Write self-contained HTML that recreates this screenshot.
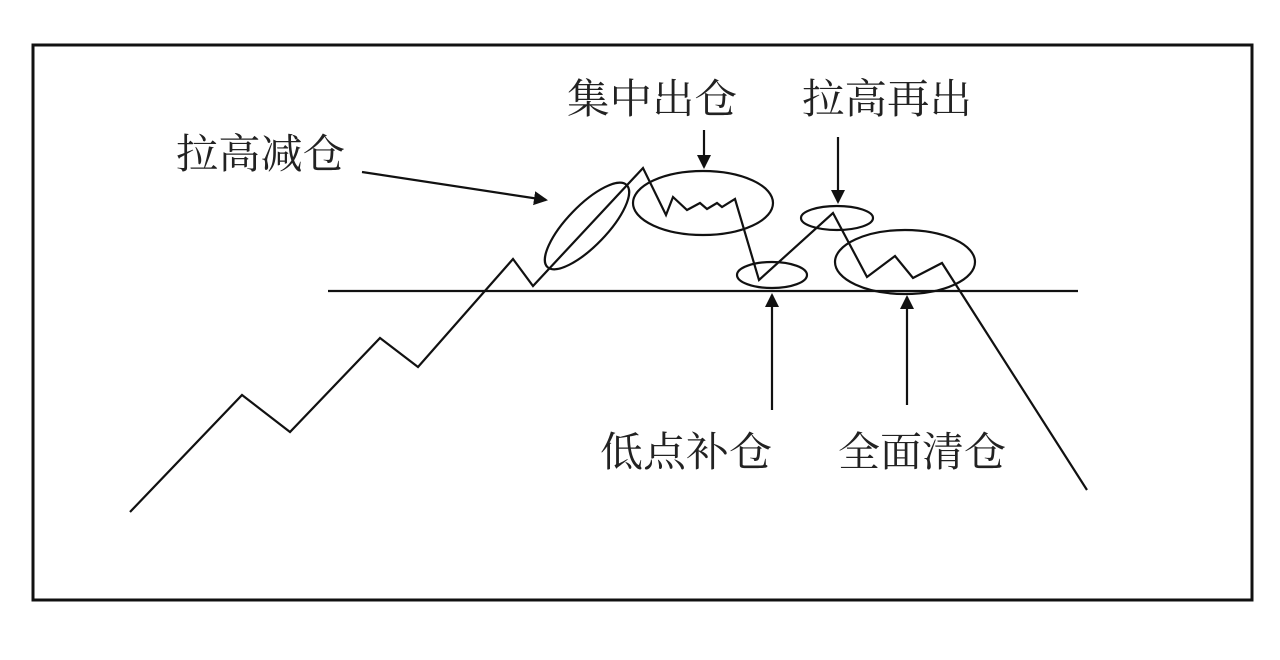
<!DOCTYPE html>
<html><head><meta charset="utf-8"><style>
html,body{margin:0;padding:0;background:#fff;}
svg{display:block;}
text{font-family:"Liberation Serif","Noto Serif CJK SC",serif;font-size:41px;fill:#222;}
</style></head><body>
<svg width="1280" height="660" viewBox="0 0 1280 660" xmlns="http://www.w3.org/2000/svg">
<defs><marker id="a" markerWidth="10" markerHeight="10" refX="9" refY="5" orient="auto" markerUnits="userSpaceOnUse" viewBox="0 0 10 10"><path d="M0,0 L10,5 L0,10 Z" fill="#111"/></marker>
<marker id="b" markerWidth="14" markerHeight="18" refX="12" refY="7" orient="auto" markerUnits="userSpaceOnUse" viewBox="0 0 14 14"><path d="M0,0 L14,7 L0,14 Z" fill="#111"/></marker></defs>
<rect x="33" y="45" width="1219" height="555" fill="none" stroke="#111" stroke-width="3"/>
<g fill="none" stroke="#111" stroke-width="2.2">
<line x1="328" y1="291" x2="1078" y2="291"/>
<polyline points="130,512 242,395 290,432 380,338 418,367 513,259 533,286 643,168 666,215 673,197 687,210 700,203 707,209 717,203 722,207 735,199 759,280 833,213 867,277 895,256 913,278 942,263 1087,490"/>
<ellipse cx="587" cy="226" rx="57" ry="20" transform="rotate(-46 587 226)"/>
<ellipse cx="703" cy="203" rx="70" ry="32"/>
<ellipse cx="772" cy="275" rx="35" ry="13"/>
<ellipse cx="837" cy="218" rx="36" ry="12"/>
<ellipse cx="905" cy="262" rx="70" ry="32"/>
<line x1="362" y1="172" x2="546" y2="200" marker-end="url(#b)"/>
<line x1="704" y1="130" x2="704" y2="167" marker-end="url(#b)"/>
<line x1="838" y1="137" x2="838" y2="202" marker-end="url(#b)"/>
<line x1="772" y1="410" x2="772" y2="295" marker-end="url(#b)"/>
<line x1="907" y1="405" x2="907" y2="297" marker-end="url(#b)"/>
</g>
<text x="176" y="168" textLength="169" lengthAdjust="spacingAndGlyphs">拉高减仓</text>
<text x="567" y="113" textLength="170" lengthAdjust="spacingAndGlyphs">集中出仓</text>
<text x="802" y="113" textLength="170" lengthAdjust="spacingAndGlyphs">拉高再出</text>
<text x="600" y="466" textLength="172" lengthAdjust="spacingAndGlyphs">低点补仓</text>
<text x="838" y="466" textLength="168" lengthAdjust="spacingAndGlyphs">全面清仓</text>
</svg>
</body></html>
